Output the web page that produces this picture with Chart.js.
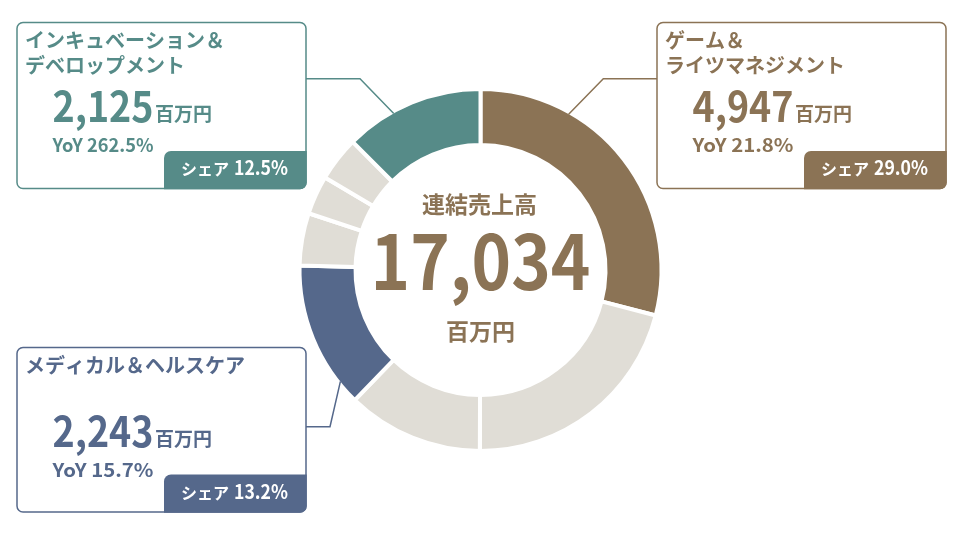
<!DOCTYPE html>
<html lang="ja">
<head>
<meta charset="utf-8">
<title>連結売上高 セグメント構成</title>
<script src="https://cdn.jsdelivr.net/npm/chart.js@4"></script>
<style>
  html, body { margin: 0; padding: 0; background: #ffffff; }
  canvas { display: block; }
</style>
</head>
<body>
<canvas id="c" width="960" height="540"></canvas>
<script>
// セグメント（上から時計回り）
const segmentNames = [
  'ゲーム＆ライツマネジメント',
  'セグメントB',
  'セグメントC',
  'メディカル＆ヘルスケア',
  'セグメントE',
  'セグメントF',
  'セグメントG',
  'インキュベーション＆デベロップメント'
];
// 売上高（百万円）
const salesValues = [4947, 3580, 2072, 2243, 798, 591, 678, 2125];
const segmentColors = ['#8B7355', '#E0DDD6', '#E0DDD6', '#55688B', '#E0DDD6', '#E0DDD6', '#E0DDD6', '#568B88'];

// 注記ボックスを付けるセグメント
const calloutIndex = [7, 0, 3];
const calloutTitles = [
  ['インキュベーション＆', 'デベロップメント'],
  ['ゲーム＆', 'ライツマネジメント'],
  ['メディカル＆ヘルスケア']
];
const calloutYoY = ['262.5%', '21.8%', '15.7%'];

const centerTitle = '連結売上高';
const unitLabel = '百万円';

const FONT = '"Noto Sans CJK JP", "Noto Sans", sans-serif';
const total = salesValues.reduce((a, b) => a + b, 0);
const fmt = v => v.toLocaleString('en-US');
const share = v => (v / total * 100).toFixed(1) + '%';

// ボックスの配置と引き出し線
const boxes = [
  { x: 17,  y: 22.5,  w: 289, h: 166,   side: 'left',  lineY: 78.7,  bendX: 360,   anchorDeg: 331 },
  { x: 657, y: 22.5,  w: 289, h: 166,   side: 'right', lineY: 78.7,  bendX: 603.3, anchorDeg: 29.5 },
  { x: 17,  y: 347.5, w: 289, h: 164.5, side: 'left',  lineY: 426.7, bendX: 330,   anchorDeg: 231.5 }
];

function drawText(ctx, str, x, y, size, color, align, fitWidth) {
  ctx.save();
  ctx.font = 'bold ' + size + 'px ' + FONT;
  ctx.fillStyle = color;
  ctx.textBaseline = 'alphabetic';
  ctx.textAlign = align || 'left';
  let s = 1;
  if (fitWidth) s = fitWidth / ctx.measureText(str).width;
  ctx.translate(x, y);
  ctx.scale(s, 1);
  ctx.fillText(str, 0, 0);
  ctx.restore();
}

const calloutPlugin = {
  id: 'callouts',
  afterDraw(chart) {
    const ctx = chart.ctx;
    const arcs = chart.getDatasetMeta(0).data;

    boxes.forEach((b, k) => {
      const idx = calloutIndex[k];
      const color = segmentColors[idx];
      const arc = arcs[idx];
      const r = arc.outerRadius - 2;
      const a = (b.anchorDeg - 90) * Math.PI / 180;
      const ax = arc.x + r * Math.cos(a);
      const ay = arc.y + r * Math.sin(a);
      const edgeX = b.side === 'left' ? b.x + b.w : b.x;

      // 引き出し線
      ctx.save();
      ctx.strokeStyle = color;
      ctx.lineWidth = 1.5;
      ctx.beginPath();
      ctx.moveTo(edgeX, b.lineY);
      ctx.lineTo(b.bendX, b.lineY);
      ctx.lineTo(ax, ay);
      ctx.stroke();

      // 枠
      ctx.fillStyle = '#ffffff';
      ctx.beginPath();
      ctx.roundRect(b.x, b.y, b.w, b.h, 6);
      ctx.fill();
      ctx.stroke();

      // シェア帯
      const bl = b.x + 147, bt = b.y + b.h - 37.5;
      const br = b.x + b.w + 0.75, bb = b.y + b.h + 0.75;
      ctx.fillStyle = color;
      ctx.beginPath();
      ctx.moveTo(bl + 7, bt);
      ctx.lineTo(br, bt);
      ctx.lineTo(br, bb - 6.75);
      ctx.arcTo(br, bb, br - 6.75, bb, 6.75);
      ctx.lineTo(bl, bb);
      ctx.lineTo(bl, bt + 7);
      ctx.arcTo(bl, bt, bl + 7, bt, 7);
      ctx.closePath();
      ctx.fill();
      ctx.restore();

      // タイトル
      calloutTitles[k].forEach((t, i) => {
        drawText(ctx, t, b.x + 8, b.y + 25.5 + i * 25, 20, color, 'left');
      });
      // 売上高
      const vy = b.y + 99;
      drawText(ctx, fmt(salesValues[idx]), b.x + 35.5, vy, 42, color, 'left', 101);
      drawText(ctx, unitLabel, b.x + 138, vy - 1, 19, color, 'left');
      // 前年比
      drawText(ctx, 'YoY ' + calloutYoY[k], b.x + 35.5, b.y + 129, 18, color, 'left', 101);
      // シェア
      const sy = b.y + b.h - 13.5;
      drawText(ctx, 'シェア', bl + 17, sy, 16, '#ffffff', 'left');
      drawText(ctx, share(salesValues[idx]), b.x + b.w - 18, sy, 19.5, '#ffffff', 'right', 54);
    });

    // 中央ラベル
    const c = arcs[0];
    const brown = segmentColors[0];
    drawText(ctx, centerTitle, c.x - 1, 212.7, 23, brown, 'center');
    drawText(ctx, fmt(total), c.x, 290, 75, brown, 'center', 220);
    drawText(ctx, unitLabel, c.x, 340, 23, brown, 'center');
  }
};

new Chart(document.getElementById('c'), {
  type: 'doughnut',
  data: {
    labels: segmentNames,
    datasets: [{
      data: salesValues,
      backgroundColor: segmentColors,
      borderColor: '#ffffff',
      borderWidth: 4,
      hoverOffset: 0
    }]
  },
  options: {
    responsive: false,
    devicePixelRatio: 1,
    animation: false,
    radius: 181,
    cutout: '69.06%',
    layout: { padding: { left: 1 } },
    plugins: { legend: { display: false }, tooltip: { enabled: false } }
  },
  plugins: [calloutPlugin]
});
</script>
</body>
</html>
